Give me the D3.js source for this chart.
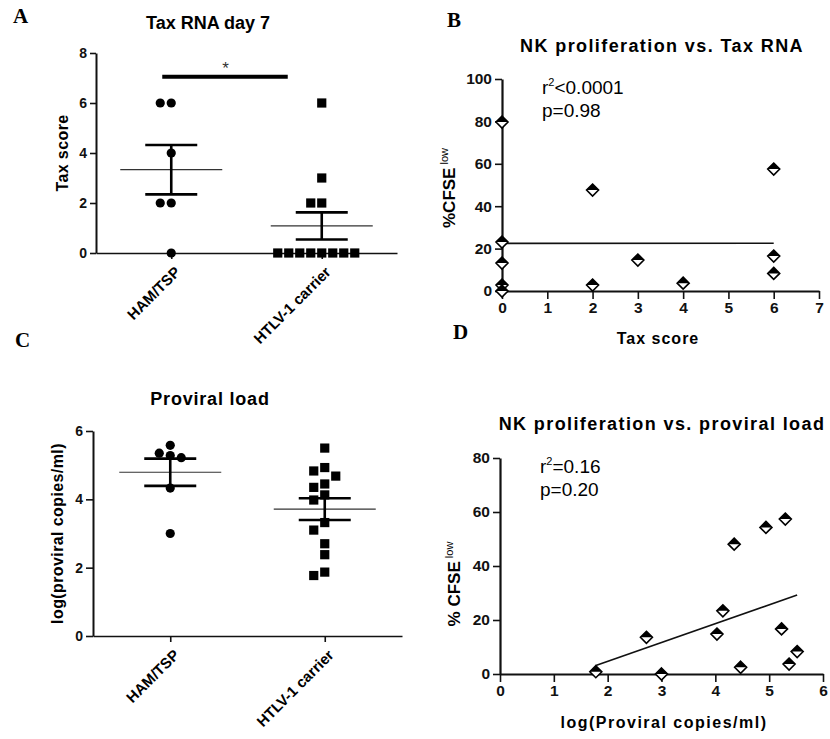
<!DOCTYPE html>
<html>
<head>
<meta charset="utf-8">
<script src="https://cdn.jsdelivr.net/npm/d3@7"></script>
<style>
body { margin: 0; background: #fff; }
text { font-family: "Liberation Sans", Arial, sans-serif; }
</style>
</head>
<body>
<div id="chart"></div>
<script>
// ---- data ----
const groups = ["HAM/TSP", "HTLV-1 carrier"];

const taxHam = [6, 6, 4, 2, 2, 0];
const taxCarrier = [6, 3, 2, 2, 0, 0, 0, 0, 0, 0, 0, 0];
const taxTicks = [0, 2, 4, 6, 8];

const pvlHam = [5.58, 5.35, 5.28, 5.22, 4.33, 3.0];
const pvlCarrier = [5.5, 4.93, 4.83, 4.68, 4.45, 4.35, 4.13, 3.98, 3.32, 3.1, 2.7, 2.38, 1.87, 1.77];
const pvlTicks = [0, 2, 4, 6];

const nkTaxScore = [0, 0, 0, 0, 0, 2, 2, 3, 4, 6, 6, 6];
const nkTaxCfse = [79.7, 23.1, 13.2, 2.8, 0, 47.6, 2.8, 14.6, 3.7, 57.5, 16.5, 8.3];
const nkTaxXTicks = [0, 1, 2, 3, 4, 5, 6, 7];
const nkTaxYTicks = [0, 20, 40, 60, 80, 100];

const nkPvl = [1.78, 2.72, 3.0, 4.03, 4.14, 4.35, 4.47, 4.94, 5.23, 5.30, 5.37, 5.52];
const nkPvlCfse = [0.85, 13.6, 0, 14.8, 23.4, 48.1, 2.5, 54.3, 16.7, 57.4, 3.7, 8.3];
const nkPvlXTicks = [0, 1, 2, 3, 4, 5, 6];
const nkPvlYTicks = [0, 20, 40, 60, 80];

const statsTax = ["<0.0001", "p=0.98"];
const statsPvl = ["=0.16", "p=0.20"];

const svg = d3.select("#chart").append("svg")
    .attr("width", 830)
    .attr("height", 739);

const fmt = d3.format("d");

function panelLetter(letter, x, y) {
    svg.append("text")
        .attr("x", x).attr("y", y)
        .style("font-family", "'Liberation Serif', 'Times New Roman', serif")
        .attr("font-weight", "bold")
        .attr("font-size", 21)
        .text(letter);
}

function styleAxis(g, width, fontSize) {
    g.select(".domain").attr("stroke", "#111").attr("stroke-width", width);
    g.selectAll(".tick line").attr("stroke", "#111").attr("stroke-width", 1.6);
    g.selectAll(".tick text")
        .attr("fill", "#111")
        .attr("font-weight", "bold")
        .attr("font-size", fontSize)
        .style("font-family", "'Liberation Sans', Arial, sans-serif");
}

// greedy swarm: try slots 0, -1, +1, -2, +2 ... until no overlap
function swarm(values, yScale, cx, step, gap) {
    const placed = [];
    const order = [0, -1, 1, -2, 2, -3, 3, -4, 4, -5, 5];
    return values.map(v => {
        const py = yScale(v);
        for (let k of order) {
            const px = cx + k * step;
            const hit = placed.some(p => Math.abs(p.x - px) < step * 0.9 && Math.abs(p.y - py) < gap);
            if (!hit) {
                placed.push({ x: px, y: py });
                return { x: px, y: py };
            }
        }
    });
}

function renderDotPlot(o) {
    const xScale = d3.scalePoint(groups, [o.left, o.right]).padding(0.5);
    const yScale = d3.scaleLinear([0, o.max], [o.bottom, o.top]);

    svg.append("text")
        .attr("x", o.titleX).attr("y", o.titleY)
        .attr("text-anchor", "middle")
        .attr("font-weight", "bold")
        .attr("font-size", 18)
        .attr("letter-spacing", o.titleSpacing)
        .text(o.title);

    const yAxis = svg.append("g")
        .attr("transform", `translate(${o.left},0)`)
        .call(d3.axisLeft(yScale).tickValues(o.ticks).tickFormat(fmt).tickSize(o.tickSize).tickSizeOuter(0).tickPadding(3));
    styleAxis(yAxis, 2, 14);

    const xAxis = svg.append("g")
        .attr("transform", `translate(0,${o.bottom})`)
        .call(d3.axisBottom(xScale).tickSize(6).tickSizeOuter(0).tickFormat(""));
    styleAxis(xAxis, 1.5, 14);

    svg.append("g").selectAll("text")
        .data(groups)
        .enter()
        .append("text")
        .attr("transform", d => `translate(${xScale(d) + 10},${o.bottom + 20}) rotate(-45)`)
        .attr("text-anchor", "end")
        .attr("font-weight", "bold")
        .attr("font-size", 15)
        .text(d => d);

    svg.append("text")
        .attr("transform", `translate(${o.yLabelX},${(o.top + o.bottom) / 2}) rotate(-90)`)
        .attr("text-anchor", "middle")
        .attr("font-weight", "bold")
        .attr("font-size", 16)
        .attr("letter-spacing", 0.4)
        .text(o.yLabel);

    o.series.forEach((values, i) => {
        const cx = xScale(groups[i]);
        const mean = d3.mean(values);
        const sem = d3.deviation(values) / Math.sqrt(values.length);
        const g = svg.append("g");

        g.append("line")
            .attr("x1", cx - 51).attr("x2", cx + 51)
            .attr("y1", yScale(mean)).attr("y2", yScale(mean))
            .attr("stroke", "#333").attr("stroke-width", 1.2);
        g.append("line")
            .attr("x1", cx).attr("x2", cx)
            .attr("y1", yScale(mean - sem)).attr("y2", yScale(mean + sem))
            .attr("stroke", "#000").attr("stroke-width", 2.6);
        for (let v of [mean - sem, mean + sem]) {
            g.append("line")
                .attr("x1", cx - 26).attr("x2", cx + 26)
                .attr("y1", yScale(v)).attr("y2", yScale(v))
                .attr("stroke", "#000").attr("stroke-width", 2.6);
        }

        const pts = swarm(values, yScale, cx, 11, 9);
        if (i == 0) {
            g.selectAll("circle").data(pts).enter().append("circle")
                .attr("cx", d => d.x).attr("cy", d => d.y).attr("r", 4.6).attr("fill", "#000");
        } else {
            g.selectAll("rect").data(pts).enter().append("rect")
                .attr("x", d => d.x - 4.6).attr("y", d => d.y - 4.6)
                .attr("width", 9.2).attr("height", 9.2).attr("fill", "#000");
        }
    });

    if (o.sig) {
        const sy = yScale(o.sig);
        svg.append("line")
            .attr("x1", xScale(groups[0]) - 9).attr("x2", xScale(groups[1]) - 34)
            .attr("y1", sy).attr("y2", sy)
            .attr("stroke", "#000").attr("stroke-width", 4);
        svg.append("text")
            .attr("x", (xScale(groups[0]) + xScale(groups[1])) / 2 - 21)
            .attr("y", sy - 3)
            .attr("text-anchor", "middle")
            .attr("font-size", 17)
            .attr("fill", "#333")
            .text("*");
    }
}

function renderScatter(o) {
    const xScale = d3.scaleLinear([0, o.xMax], [o.left, o.right]);
    const yScale = d3.scaleLinear([0, o.yMax], [o.bottom, o.top]);

    svg.append("text")
        .attr("x", o.titleX).attr("y", o.titleY)
        .attr("text-anchor", "middle")
        .attr("font-weight", "bold")
        .attr("font-size", 18)
        .attr("letter-spacing", 1.4)
        .text(o.title);

    const yAxis = svg.append("g")
        .attr("transform", `translate(${o.left},0)`)
        .call(d3.axisLeft(yScale).tickValues(o.yTicks).tickFormat(fmt).tickSize(7).tickSizeOuter(0).tickPadding(3));
    styleAxis(yAxis, 2.2, 15.5);

    const xAxis = svg.append("g")
        .attr("transform", `translate(0,${o.bottom})`)
        .call(d3.axisBottom(xScale).tickValues(o.xTicks).tickFormat(fmt).tickSize(8).tickSizeOuter(0).tickPadding(3));
    styleAxis(xAxis, 2.2, 15.5);

    svg.append("text")
        .attr("x", o.xLabelX).attr("y", o.xLabelY)
        .attr("text-anchor", "middle")
        .attr("font-weight", "bold")
        .attr("font-size", 16)
        .attr("letter-spacing", o.xLabelSpacing)
        .text(o.xLabel);

    const yl = svg.append("text")
        .attr("transform", `translate(${o.yLabelX},${o.yLabelY}) rotate(-90)`)
        .attr("text-anchor", "middle");
    yl.append("tspan").attr("font-weight", "bold").attr("font-size", 17).text(o.yLabel);
    yl.append("tspan").attr("font-size", 11).attr("dy", -7).text(" low");

    // stats
    const st = svg.append("text").attr("x", o.left + 40).attr("y", o.top + 15).attr("font-size", 19);
    st.append("tspan").text("r");
    st.append("tspan").attr("font-size", 11).attr("dy", -8).text("2");
    st.append("tspan").attr("dy", 8).text(o.stats[0]);
    svg.append("text").attr("x", o.left + 40).attr("y", o.top + 38).attr("font-size", 19).text(o.stats[1]);

    // least squares fit
    const mx = d3.mean(o.xs), my = d3.mean(o.ys);
    const sxy = d3.sum(o.xs, (v, i) => (v - mx) * (o.ys[i] - my));
    const sxx = d3.sum(o.xs, v => (v - mx) * (v - mx));
    const slope = sxy / sxx;
    const icpt = my - slope * mx;
    const [xa, xb] = d3.extent(o.xs);
    svg.append("line")
        .attr("x1", xScale(xa)).attr("y1", yScale(icpt + slope * xa))
        .attr("x2", xScale(xb)).attr("y2", yScale(icpt + slope * xb))
        .attr("stroke", "#111").attr("stroke-width", 1.6);

    const pts = o.xs.map((v, i) => ({ x: xScale(v), y: yScale(o.ys[i]) }));
    const s = 6;
    const g = svg.append("g");
    g.selectAll("path.full").data(pts).enter().append("path")
        .attr("d", d => `M${d.x},${d.y - s}L${d.x + s},${d.y}L${d.x},${d.y + s}L${d.x - s},${d.y}Z`)
        .attr("fill", "#fff").attr("stroke", "#000").attr("stroke-width", 1.6);
    g.selectAll("path.top").data(pts).enter().append("path")
        .attr("d", d => `M${d.x},${d.y - s}L${d.x + s},${d.y}L${d.x - s},${d.y}Z`)
        .attr("fill", "#000");
}

panelLetter("A", 13, 23);
panelLetter("B", 447, 27);
panelLetter("C", 15, 347);
panelLetter("D", 453, 339);

renderDotPlot({
    left: 96, right: 397, top: 53, bottom: 253, max: 8, ticks: taxTicks, tickSize: 6,
    series: [taxHam, taxCarrier], title: "Tax RNA day 7", titleX: 208, titleY: 29, titleSpacing: 0,
    yLabel: "Tax score", yLabelX: 68, sig: 7.05
});

renderDotPlot({
    left: 93, right: 402, top: 431, bottom: 636, max: 6, ticks: pvlTicks, tickSize: 7,
    series: [pvlHam, pvlCarrier], title: "Proviral load", titleX: 210, titleY: 405, titleSpacing: 0.8,
    yLabel: "log(proviral copies/ml)", yLabelX: 63
});

renderScatter({
    left: 502, right: 819, top: 79, bottom: 291, xMax: 7, yMax: 100,
    xTicks: nkTaxXTicks, yTicks: nkTaxYTicks, xs: nkTaxScore, ys: nkTaxCfse,
    title: "NK proliferation vs. Tax RNA", titleX: 662, titleY: 52,
    xLabel: "Tax score", xLabelX: 658, xLabelY: 344, xLabelSpacing: 1,
    yLabel: "%CFSE", yLabelX: 455, yLabelY: 188, stats: statsTax
});

renderScatter({
    left: 500, right: 823, top: 458, bottom: 674, xMax: 6, yMax: 80,
    xTicks: nkPvlXTicks, yTicks: nkPvlYTicks, xs: nkPvl, ys: nkPvlCfse,
    title: "NK proliferation vs. proviral load", titleX: 662, titleY: 430,
    xLabel: "log(Proviral copies/ml)", xLabelX: 664, xLabelY: 728, xLabelSpacing: 1.5,
    yLabel: "% CFSE", yLabelX: 460, yLabelY: 584, stats: statsPvl
});
</script>
</body>
</html>
